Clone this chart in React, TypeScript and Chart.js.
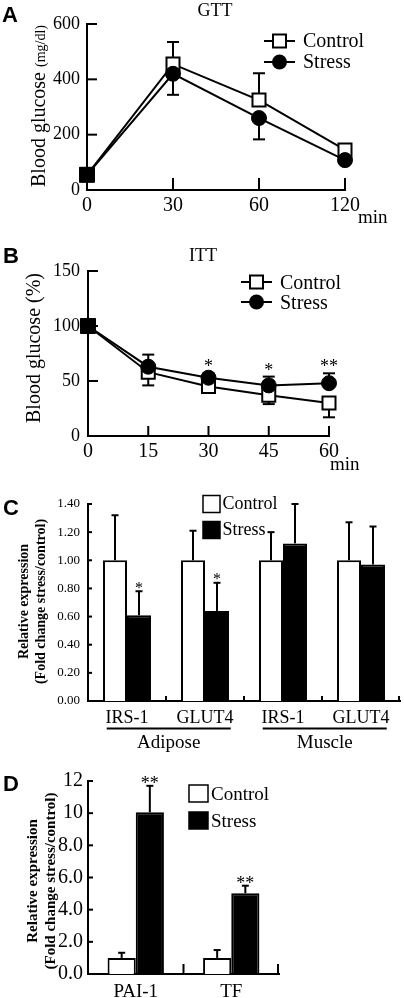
import React, { useEffect, useRef } from 'react';
import { Chart, registerables } from 'chart.js';

Chart.register(...registerables);

const W = 404;
const H = 998;
const SERIF = "'Liberation Serif', 'Times New Roman', Times, serif";
const SANS = "'Liberation Sans', Arial, Helvetica, sans-serif";

// ---------- Data ----------
// A: GTT
const gttLabels = ['0', '30', '60', '120'];
const gttControl = [55, 455, 325, 145];
const gttControlErr = [0, 80, 97, 0];
const gttStress = [55, 420, 260, 108];
const gttStressErr = [0, 76, 77, 0];

// B: ITT
const ittLabels = ['0', '15', '30', '45', '60'];
const ittControl = [100, 58, 45, 37, 30];
const ittControlErr = [0, 12, 0, 8, 13];
const ittStress = [100, 63, 53, 46, 48];
const ittStressErr = [0, 11, 4, 8, 9];
const ittSignif = ['', '', '*', '*', '**'];

// C: gene expression
const geneLabels = ['IRS-1', 'GLUT4', 'IRS-1', 'GLUT4'];
const tissueLabels = ['Adipose', 'Muscle'];
const geneControl = [1.0, 1.0, 1.0, 1.0];
const geneControlErr = [0.32, 0.21, 0.2, 0.27];
const geneStress = [0.61, 0.64, 1.12, 0.97];
const geneStressErr = [0.17, 0.2, 0.28, 0.27];
const geneSignif = ['*', '*', '', ''];

// D: coagulation genes
const coagLabels = ['PAI-1', 'TF'];
const coagControl = [1.0, 1.0];
const coagControlErr = [0.32, 0.49];
const coagStress = [10.05, 5.02];
const coagStressErr = [1.65, 0.47];
const coagSignif = ['**', '**'];

const seriesNames = ['Control', 'Stress'];

// ---------- helpers ----------
type Box = { l: number; t: number; r: number; b: number; xh: number };

function line(ctx: CanvasRenderingContext2D, x1: number, y1: number, x2: number, y2: number, w = 2) {
  ctx.save();
  ctx.strokeStyle = '#000';
  ctx.lineWidth = w;
  ctx.lineCap = 'butt';
  ctx.beginPath();
  ctx.moveTo(x1, y1);
  ctx.lineTo(x2, y2);
  ctx.stroke();
  ctx.restore();
}

function txt(
  ctx: CanvasRenderingContext2D,
  s: string,
  x: number,
  y: number,
  size: number,
  align: CanvasTextAlign = 'left',
  baseline: CanvasTextBaseline = 'alphabetic',
  weight = 'normal',
  family = SERIF
) {
  ctx.save();
  ctx.fillStyle = '#000';
  ctx.font = `${weight} ${size}px ${family}`;
  ctx.textAlign = align;
  ctx.textBaseline = baseline;
  ctx.fillText(s, x, y);
  ctx.restore();
}

function rotParts(ctx: CanvasRenderingContext2D, parts: { s: string; font: string }[], baseX: number, cy: number) {
  ctx.save();
  let total = 0;
  parts.forEach((p) => {
    ctx.font = p.font;
    total += ctx.measureText(p.s).width;
  });
  ctx.translate(baseX, cy);
  ctx.rotate(-Math.PI / 2);
  ctx.fillStyle = '#000';
  ctx.textAlign = 'left';
  ctx.textBaseline = 'alphabetic';
  let x = -total / 2;
  parts.forEach((p) => {
    ctx.font = p.font;
    ctx.fillText(p.s, x, 0);
    x += ctx.measureText(p.s).width;
  });
  ctx.restore();
}

function rotCenter(ctx: CanvasRenderingContext2D, s: string, cx: number, cy: number, font: string) {
  ctx.save();
  ctx.translate(cx, cy);
  ctx.rotate(-Math.PI / 2);
  ctx.fillStyle = '#000';
  ctx.font = font;
  ctx.textAlign = 'center';
  ctx.textBaseline = 'middle';
  ctx.fillText(s, 0, 0);
  ctx.restore();
}

function yTicksIn(chart: any, len: number) {
  const s = chart.scales.y;
  const { left } = chart.chartArea;
  s.ticks.forEach((t: any) => {
    if (t.value === s.min) return;
    const py = s.getPixelForValue(t.value);
    line(chart.ctx, left, py, left + len, py);
  });
}

function xTicksAtLabels(chart: any, len: number) {
  const s = chart.scales.x;
  const { left, bottom } = chart.chartArea;
  s.ticks.forEach((_t: any, i: number) => {
    const px = s.getPixelForTick(i);
    if (Math.abs(px - left) < 1) return;
    line(chart.ctx, px, bottom + 1, px, bottom - len);
  });
}

function xTicksBetween(chart: any, len: number) {
  const s = chart.scales.x;
  const { right, bottom } = chart.chartArea;
  const n = s.ticks.length;
  for (let i = 1; i <= n; i++) {
    const px = i < n ? (s.getPixelForTick(i - 1) + s.getPixelForTick(i)) / 2 : right - 1;
    line(chart.ctx, px, bottom + 1, px, bottom - len);
  }
}

function errBars(chart: any, di: number, values: number[], errs: number[], dir: number, cap: number) {
  const meta = chart.getDatasetMeta(di);
  const y = chart.scales.y;
  values.forEach((v, i) => {
    if (!errs[i]) return;
    const px = meta.data[i].x;
    const p0 = y.getPixelForValue(v);
    const p1 = y.getPixelForValue(v + dir * errs[i]);
    line(chart.ctx, px, p0, px, p1);
    line(chart.ctx, px - cap / 2, p1, px + cap / 2, p1);
  });
}

function stars(chart: any, di: number, values: number[], errs: number[], marks: string[], gap: number, size: number) {
  const meta = chart.getDatasetMeta(di);
  const y = chart.scales.y;
  marks.forEach((m, i) => {
    if (!m) return;
    const px = meta.data[i].x;
    const top = y.getPixelForValue(values[i] + errs[i]);
    const cy = top - gap;
    txt(chart.ctx, m, px, cy + 0.47 * size, size, 'center');
  });
}

function lineLegend(ctx: CanvasRenderingContext2D, x1: number, x2: number, y: number, kind: 'square' | 'circle', label: string, tx: number, base: number, size: number) {
  line(ctx, x1, y, x2, y);
  const cx = (x1 + x2) / 2;
  ctx.save();
  ctx.lineWidth = 2;
  ctx.strokeStyle = '#000';
  if (kind === 'square') {
    ctx.fillStyle = '#fff';
    ctx.fillRect(cx - 6.5, y - 6.5, 13, 13);
    ctx.strokeRect(cx - 6.5, y - 6.5, 13, 13);
  } else {
    ctx.fillStyle = '#000';
    ctx.beginPath();
    ctx.arc(cx, y, 7.5, 0, Math.PI * 2);
    ctx.fill();
  }
  ctx.restore();
  txt(ctx, label, tx, base, size);
}

function boxLegend(ctx: CanvasRenderingContext2D, x: number, y: number, w: number, h: number, fill: string, label: string, tx: number, base: number, size: number) {
  ctx.save();
  ctx.fillStyle = fill;
  ctx.fillRect(x, y, w, h);
  ctx.strokeStyle = '#000';
  ctx.lineWidth = 1.5;
  ctx.strokeRect(x, y, w, h);
  ctx.restore();
  txt(ctx, label, tx, base, size);
}

function letter(ctx: CanvasRenderingContext2D, s: string, x: number, base: number) {
  txt(ctx, s, x, base, 22, 'left', 'alphabetic', 'bold', SANS);
}

function baseOptions(a: Box, xOpts: any, yOpts: any) {
  return {
    responsive: false,
    animation: false,
    devicePixelRatio: 1,
    events: [],
    layout: { padding: { left: 0, top: a.t, right: W - a.r, bottom: H - a.b - a.xh } },
    plugins: { legend: { display: false }, title: { display: false }, tooltip: { enabled: false } },
    scales: {
      x: {
        ...xOpts,
        grid: { display: false, drawTicks: false },
        border: { display: true, color: '#000', width: 2 },
        ticks: { color: '#000', autoSkip: false, maxRotation: 0, minRotation: 0, ...xOpts.ticks },
        afterFit: (s: any) => {
          s.height = a.xh;
        },
      },
      y: {
        ...yOpts,
        grid: { display: false, drawTicks: false },
        border: { display: true, color: '#000', width: 2 },
        ticks: { color: '#000', autoSkip: false, ...yOpts.ticks },
        afterFit: (s: any) => {
          s.width = a.l;
        },
      },
    },
  };
}

// ---------- Panel A ----------
function makeGTT(canvas: HTMLCanvasElement) {
  const box: Box = { l: 87, t: 24, r: 345, b: 190, xh: 40 };
  return new Chart(canvas, {
    type: 'line',
    data: {
      labels: gttLabels,
      datasets: [
        {
          label: seriesNames[0],
          data: gttControl,
          borderColor: '#000',
          borderWidth: 2,
          pointStyle: 'rect',
          pointRadius: 9.2,
          pointBackgroundColor: '#fff',
          pointBorderColor: '#000',
          pointBorderWidth: 2,
          order: 2,
          clip: false,
        },
        {
          label: seriesNames[1],
          data: gttStress,
          borderColor: '#000',
          borderWidth: 2,
          pointStyle: (c: any) => (c.dataIndex === 0 ? 'rect' : 'circle'),
          pointRadius: (c: any) => (c.dataIndex === 0 ? 10.6 : 7.5),
          pointBackgroundColor: '#000',
          pointBorderColor: '#000',
          pointBorderWidth: 1,
          order: 1,
          clip: false,
        },
      ],
    } as any,
    options: baseOptions(
      box,
      { type: 'category', offset: false, ticks: { font: { family: SERIF, size: 20 }, padding: 4 } },
      { min: 0, max: 600, ticks: { stepSize: 200, font: { family: SERIF, size: 18 }, padding: 7 } }
    ) as any,
    plugins: [
      {
        id: 'decorA',
        beforeDatasetsDraw(chart: any) {
          errBars(chart, 0, gttControl, gttControlErr, 1, 12);
          errBars(chart, 1, gttStress, gttStressErr, -1, 12);
        },
        afterDraw(chart: any) {
          const ctx = chart.ctx;
          yTicksIn(chart, 10);
          xTicksAtLabels(chart, 12);
          letter(ctx, 'A', 2, 22);
          txt(ctx, 'GTT', 215, 16, 18, 'center');
          rotParts(
            ctx,
            [
              { s: 'Blood glucose ', font: `20px ${SERIF}` },
              { s: '(mg/dl)', font: `14px ${SERIF}` },
            ],
            45,
            106
          );
          txt(ctx, 'min', 358, 223, 19);
          lineLegend(ctx, 264, 295, 41, 'square', seriesNames[0], 303, 47, 20);
          lineLegend(ctx, 264, 295, 62, 'circle', seriesNames[1], 303, 68, 20);
        },
      },
    ],
  });
}

// ---------- Panel B ----------
function makeITT(canvas: HTMLCanvasElement) {
  const box: Box = { l: 88, t: 271, r: 329, b: 436, xh: 40 };
  return new Chart(canvas, {
    type: 'line',
    data: {
      labels: ittLabels,
      datasets: [
        {
          label: seriesNames[0],
          data: ittControl,
          borderColor: '#000',
          borderWidth: 2,
          pointStyle: 'rect',
          pointRadius: 9.2,
          pointBackgroundColor: '#fff',
          pointBorderColor: '#000',
          pointBorderWidth: 2,
          order: 2,
          clip: false,
        },
        {
          label: seriesNames[1],
          data: ittStress,
          borderColor: '#000',
          borderWidth: 2,
          pointStyle: (c: any) => (c.dataIndex === 0 ? 'rect' : 'circle'),
          pointRadius: (c: any) => (c.dataIndex === 0 ? 10.6 : 7.5),
          pointBackgroundColor: '#000',
          pointBorderColor: '#000',
          pointBorderWidth: 1,
          order: 1,
          clip: false,
        },
      ],
    } as any,
    options: baseOptions(
      box,
      { type: 'category', offset: false, ticks: { font: { family: SERIF, size: 20 }, padding: 4 } },
      { min: 0, max: 150, ticks: { stepSize: 50, font: { family: SERIF, size: 18 }, padding: 8 } }
    ) as any,
    plugins: [
      {
        id: 'decorB',
        beforeDatasetsDraw(chart: any) {
          errBars(chart, 0, ittControl, ittControlErr, -1, 12);
          errBars(chart, 1, ittStress, ittStressErr, 1, 12);
        },
        afterDraw(chart: any) {
          const ctx = chart.ctx;
          yTicksIn(chart, 10);
          xTicksAtLabels(chart, 10);
          stars(chart, 1, ittStress, ittStressErr, ittSignif, 9.5, 18);
          letter(ctx, 'B', 3, 263);
          txt(ctx, 'ITT', 203, 261, 18, 'center');
          rotParts(ctx, [{ s: 'Blood glucose (%)', font: `20px ${SERIF}` }], 40, 348);
          txt(ctx, 'min', 330, 470, 19);
          lineLegend(ctx, 241, 272, 282, 'square', seriesNames[0], 280, 288.5, 20);
          lineLegend(ctx, 241, 272, 302, 'circle', seriesNames[1], 280, 308.5, 20);
        },
      },
    ],
  });
}

// ---------- Panel C ----------
function makeGenes(canvas: HTMLCanvasElement) {
  const box: Box = { l: 88, t: 504, r: 400, b: 701, xh: 40 };
  return new Chart(canvas, {
    type: 'bar',
    data: {
      labels: geneLabels,
      datasets: [
        {
          label: seriesNames[0],
          data: geneControl,
          backgroundColor: '#fff',
          borderColor: '#000',
          borderWidth: 2,
          categoryPercentage: 0.615,
          barPercentage: 1,
        },
        {
          label: seriesNames[1],
          data: geneStress,
          backgroundColor: '#000',
          borderColor: '#000',
          borderWidth: 2,
          categoryPercentage: 0.615,
          barPercentage: 1,
        },
      ],
    } as any,
    options: baseOptions(
      box,
      { type: 'category', offset: true, ticks: { font: { family: SERIF, size: 18 }, padding: 6 } },
      {
        min: 0,
        max: 1.4,
        ticks: {
          stepSize: 0.2,
          font: { family: SERIF, size: 13 },
          padding: 8,
          callback: (v: any) => Number(v).toFixed(2),
        },
      }
    ) as any,
    plugins: [
      {
        id: 'decorC',
        afterDatasetsDraw(chart: any) {
          errBars(chart, 0, geneControl, geneControlErr, 1, 7);
          errBars(chart, 1, geneStress, geneStressErr, 1, 7);
          stars(chart, 1, geneStress, geneStressErr, geneSignif, 6, 16);
        },
        afterDraw(chart: any) {
          const ctx = chart.ctx;
          const x = chart.scales.x;
          yTicksIn(chart, 4);
          xTicksBetween(chart, 5);
          const catW = (chart.chartArea.right - chart.chartArea.left) / geneLabels.length;
          tissueLabels.forEach((t, g) => {
            const x1 = x.getPixelForValue(g * 2) - 0.26 * catW;
            const x2 = x.getPixelForValue(g * 2 + 1) + 0.33 * catW;
            line(ctx, x1, 728.5, x2, 728.5);
            txt(ctx, t, (x1 + x2) / 2, 748, 19, 'center');
          });
          letter(ctx, 'C', 3, 515);
          rotCenter(ctx, 'Relative expression', 24, 601.5, `bold 14px ${SERIF}`);
          rotCenter(ctx, '(Fold change stress/control)', 41.5, 601.5, `bold 14px ${SERIF}`);
          boxLegend(ctx, 203, 495.5, 17, 17, '#fff', seriesNames[0], 222.5, 508.5, 18);
          boxLegend(ctx, 203, 521.5, 17, 17, '#000', seriesNames[1], 222.5, 535, 18);
        },
      },
    ],
  });
}

// ---------- Panel D ----------
function makeCoag(canvas: HTMLCanvasElement) {
  const box: Box = { l: 88, t: 781, r: 279, b: 974, xh: 24 };
  return new Chart(canvas, {
    type: 'bar',
    data: {
      labels: coagLabels,
      datasets: [
        {
          label: seriesNames[0],
          data: coagControl,
          backgroundColor: '#fff',
          borderColor: '#000',
          borderWidth: 2,
          categoryPercentage: 0.59,
          barPercentage: 1,
        },
        {
          label: seriesNames[1],
          data: coagStress,
          backgroundColor: '#000',
          borderColor: '#000',
          borderWidth: 2,
          categoryPercentage: 0.59,
          barPercentage: 1,
        },
      ],
    } as any,
    options: baseOptions(
      box,
      { type: 'category', offset: true, ticks: { font: { family: SERIF, size: 19 }, padding: 7 } },
      {
        min: 0,
        max: 12,
        ticks: {
          stepSize: 2,
          font: { family: SERIF, size: 20 },
          padding: 5,
          callback: (v: any) => (Number(v) >= 10 ? String(v) : Number(v).toFixed(1)),
        },
      }
    ) as any,
    plugins: [
      {
        id: 'decorD',
        afterDatasetsDraw(chart: any) {
          errBars(chart, 0, coagControl, coagControlErr, 1, 7);
          errBars(chart, 1, coagStress, coagStressErr, 1, 7);
          stars(chart, 1, coagStress, coagStressErr, coagSignif, 5.5, 18);
        },
        afterDraw(chart: any) {
          const ctx = chart.ctx;
          yTicksIn(chart, 5);
          xTicksBetween(chart, 10);
          letter(ctx, 'D', 3, 791);
          rotCenter(ctx, 'Relative expression', 33.5, 881, `bold 15px ${SERIF}`);
          rotCenter(ctx, '(Fold change stress/control)', 51, 881, `bold 15px ${SERIF}`);
          boxLegend(ctx, 189, 785, 19, 17, '#fff', seriesNames[0], 211, 799.5, 19);
          boxLegend(ctx, 189, 812, 19, 17, '#000', seriesNames[1], 211, 826.5, 19);
        },
      },
    ],
  });
}

export default function App() {
  const r0 = useRef<HTMLCanvasElement>(null);
  const r1 = useRef<HTMLCanvasElement>(null);
  const r2 = useRef<HTMLCanvasElement>(null);
  const r3 = useRef<HTMLCanvasElement>(null);

  useEffect(() => {
    const charts = [
      makeGTT(r0.current as HTMLCanvasElement),
      makeITT(r1.current as HTMLCanvasElement),
      makeGenes(r2.current as HTMLCanvasElement),
      makeCoag(r3.current as HTMLCanvasElement),
    ];
    return () => charts.forEach((c) => c.destroy());
  }, []);

  const cs: React.CSSProperties = { position: 'absolute', left: 0, top: 0, width: W, height: H };
  return (
    <div style={{ position: 'absolute', left: 0, top: 0, width: W, height: H, background: '#fff', overflow: 'hidden' }}>
      <canvas ref={r0} width={W} height={H} style={cs} />
      <canvas ref={r1} width={W} height={H} style={cs} />
      <canvas ref={r2} width={W} height={H} style={cs} />
      <canvas ref={r3} width={W} height={H} style={cs} />
    </div>
  );
}
